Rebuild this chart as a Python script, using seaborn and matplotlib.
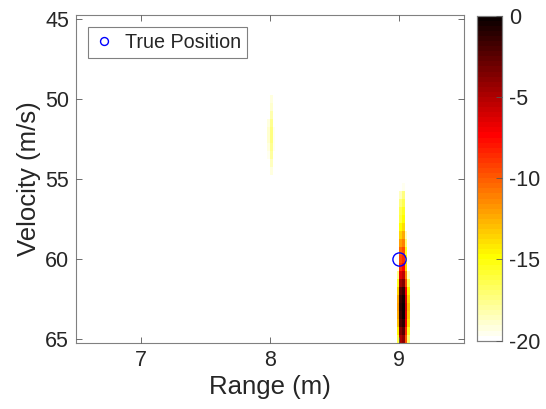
import numpy as np
import pandas as pd
import seaborn as sns
import matplotlib
matplotlib.use("Agg")
import matplotlib.pyplot as plt

# grid of the range-doppler map
range_start, range_step, n_range = 6.5, 0.02, 150
vel_start, vel_step, n_vel = 44.75, 0.5, 41

# main target: profile across range (dB rel.) and along velocity (dB)
target_range = [8.99, 9.01, 9.03, 9.05, 9.07]
target_range_db = [-12, -1, 0, -6, -13]
target_vel = [55.5, 56.0, 56.5, 57.0, 57.5, 58.0, 58.5, 59.0, 59.5, 60.0,
              60.5, 61.0, 61.5, 62.0, 62.5, 63.0, 63.5, 64.0, 64.5, 65.0]
target_vel_db = [-19.5, -17.5, -16.5, -15.5, -15.0, -14.0, -12.5, -11.0, -9.5, -8.5,
                 -7.5, -5.5, -3.5, -1.5, -0.5, 0.0, -0.3, -1.0, -2.5, -4.0]

# weak ghost near 8 m
ghost_range = [7.99, 8.01, 8.03]
ghost_range_db = [-1.5, 0, -2]
ghost_vel = [49.5, 50.0, 50.5, 51.0, 51.5, 52.0, 52.5, 53.0, 53.5, 54.0, 54.5, 55.0]
ghost_vel_db = [-19.8, -19.3, -18.8, -18.3, -17.8, -17.5, -17.4, -17.6, -18.0, -18.7, -19.3, -19.8]

true_range, true_vel = 9.0, 60.0

range_centers = range_start + range_step * (np.arange(n_range) + 0.5)
vel_centers = vel_start + vel_step * (np.arange(n_vel) + 0.5)

power = np.full((n_vel, n_range), -40.0)


def add_blob(ranges, r_db, vels, v_db):
    for r, rd in zip(ranges, r_db):
        ci = int(np.argmin(np.abs(range_centers - r)))
        for v, vd in zip(vels, v_db):
            ri = int(np.argmin(np.abs(vel_centers - v)))
            power[ri, ci] = max(power[ri, ci], rd + vd)


add_blob(target_range, target_range_db, target_vel, target_vel_db)
add_blob(ghost_range, ghost_range_db, ghost_vel, ghost_vel_db)

df = pd.DataFrame(power, index=vel_centers, columns=range_centers)


def to_x(r):
    return (r - range_start) / range_step


def to_y(v):
    return (v - vel_start) / vel_step


sns.set_style("white")
plt.rcParams['font.family'] = ['Liberation Sans', 'DejaVu Sans']
plt.rcParams['axes.unicode_minus'] = False

fig = plt.figure(figsize=(5.46, 4.09), dpi=100)
ax = fig.add_axes([76 / 546, 1 - 342.7 / 409, 388 / 546, 327.7 / 409])
cax = fig.add_axes([477 / 546, 1 - 340.7 / 409, 25 / 546, 325 / 409])

cmap = plt.get_cmap('hot_r', 64)
sns.heatmap(df, ax=ax, cbar_ax=cax, cmap=cmap, vmin=-20, vmax=0,
            xticklabels=False, yticklabels=False,
            cbar_kws={'ticks': [0, -5, -10, -15, -20]})

ax.plot([to_x(true_range)], [to_y(true_vel)], 'o', mfc='none', mec='#0000ff',
        ms=9.5, mew=1.0, label='True Position')

xt = [7, 8, 9]
yt = [45, 50, 55, 60, 65]
ax.set_axisbelow(False)
ax.set_xticks([to_x(v) for v in xt])
ax.set_xticklabels([str(v) for v in xt])
ax.set_yticks([to_y(v) for v in yt])
ax.set_yticklabels([str(v) for v in yt], rotation=0)
ax.tick_params(axis='both', direction='in', length=4, width=0.6, color='#555555',
               labelsize=15.5, bottom=True, left=True, top=True, right=True,
               pad=5, labelcolor='#262626')
ax.set_xlabel('Range (m)', fontsize=18.5, color='#262626', labelpad=3)
ax.set_ylabel('Velocity (m/s)', fontsize=18.5, color='#262626', labelpad=3)
for s in ax.spines.values():
    s.set_visible(True)
    s.set_color('#808080')
    s.set_linewidth(0.8)

leg = ax.legend(loc='upper left', fontsize=14.2, markerscale=0.6, fancybox=False,
                framealpha=1, edgecolor='#808080', borderaxespad=0.6,
                handlelength=1.0, handletextpad=0.6, borderpad=0.3)
leg.get_frame().set_linewidth(0.8)

cax.set_axisbelow(False)
cax.tick_params(direction='in', length=4, width=0.6, color='#555555', right=True,
                labelsize=15.5, labelcolor='#262626', pad=5)
for s in cax.spines.values():
    s.set_visible(True)
    s.set_color('#808080')
    s.set_linewidth(0.8)

fig.savefig('out.png', dpi=100)
